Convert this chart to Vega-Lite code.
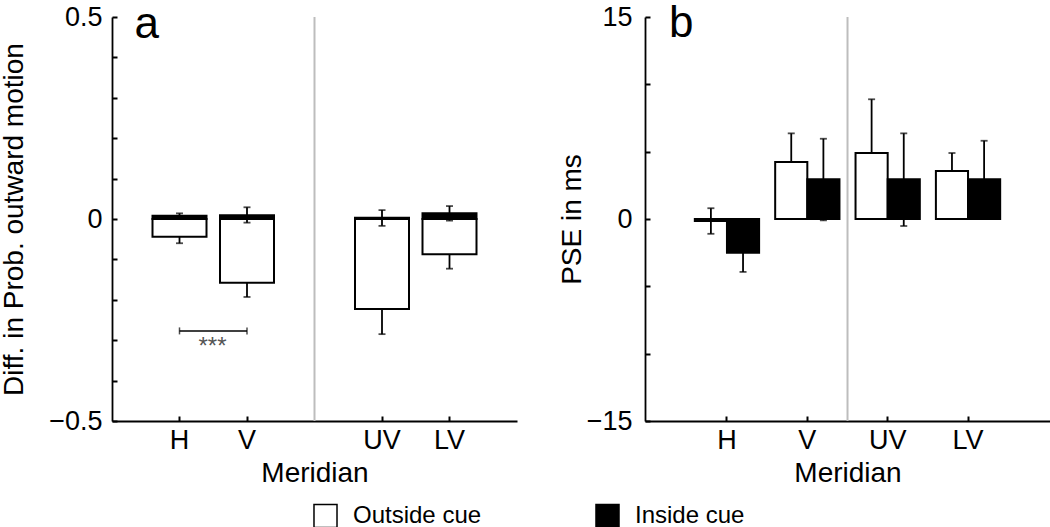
{
  "$schema": "https://vega.github.io/schema/vega-lite/v6.json",
  "padding": {"left": 0, "top": 2, "right": 0, "bottom": 0},
  "background": "white",
  "bounds": "flush",
  "spacing": 128,
  "config": {
    "view": {"stroke": null},
    "axis": {
      "domainColor": "black", "domainWidth": 1.8, "tickColor": "black", "tickWidth": 2,
      "labelColor": "black", "titleColor": "black", "labelFont": "Liberation Sans", "titleFont": "Liberation Sans",
      "labelFontSize": 27, "titleFontSize": 28, "titleFontWeight": "normal", "grid": false
    },
    "text": {"font": "Liberation Sans"},
    "legend": {"labelFont": "Liberation Sans"}
  },
  "datasets": {
    "a": [
      {"Meridian": "H", "Cue": "Outside cue", "value": -0.044, "lo": -0.060, "hi": -0.028},
      {"Meridian": "H", "Cue": "Inside cue", "value": 0.008, "lo": 0.004, "hi": 0.014},
      {"Meridian": "V", "Cue": "Outside cue", "value": -0.158, "lo": -0.193, "hi": -0.123},
      {"Meridian": "V", "Cue": "Inside cue", "value": 0.009, "lo": -0.009, "hi": 0.029},
      {"Meridian": "UV", "Cue": "Outside cue", "value": -0.223, "lo": -0.285, "hi": -0.161},
      {"Meridian": "UV", "Cue": "Inside cue", "value": 0.003, "lo": -0.017, "hi": 0.022},
      {"Meridian": "LV", "Cue": "Outside cue", "value": -0.087, "lo": -0.123, "hi": -0.051},
      {"Meridian": "LV", "Cue": "Inside cue", "value": 0.014, "lo": -0.004, "hi": 0.032}
    ],
    "b": [
      {"Meridian": "H", "Cue": "Outside cue", "value": -0.15, "lo": -1.1, "hi": 0.8},
      {"Meridian": "H", "Cue": "Inside cue", "value": -2.5, "lo": -3.93, "hi": -1.07},
      {"Meridian": "V", "Cue": "Outside cue", "value": 4.23, "lo": 2.1, "hi": 6.36},
      {"Meridian": "V", "Cue": "Inside cue", "value": 2.95, "lo": -0.1, "hi": 5.96},
      {"Meridian": "UV", "Cue": "Outside cue", "value": 4.9, "lo": 0.91, "hi": 8.89},
      {"Meridian": "UV", "Cue": "Inside cue", "value": 2.95, "lo": -0.52, "hi": 6.36},
      {"Meridian": "LV", "Cue": "Outside cue", "value": 3.56, "lo": 2.22, "hi": 4.9},
      {"Meridian": "LV", "Cue": "Inside cue", "value": 2.95, "lo": 0.09, "hi": 5.81}
    ],
    "sig": [
      {"from": "H", "to": "V", "y": -0.277, "label": "***"}
    ]
  },
  "hconcat": [
    {
      "width": 405,
      "height": 404,
      "encoding": {
        "x": {
          "field": "Meridian", "type": "nominal", "title": "Meridian",
          "scale": {"domain": ["H", "V", " ", "UV", "LV"], "paddingInner": 0.2, "paddingOuter": 0.6},
          "axis": {"values": ["H", "V", "UV", "LV"], "labelAngle": 0, "tickSize": -5, "labelPadding": 11, "titlePadding": 6}
        }
      },
      "layer": [
        {
          "data": {"values": [{}]},
          "mark": {"type": "rule", "color": "#bdbdbd", "strokeWidth": 2},
          "encoding": {"x": {"datum": " ", "type": "nominal", "title": "Meridian"}}
        },
        {
          "data": {"name": "a"},
          "transform": [{"filter": "datum.Cue == 'Outside cue'"}],
          "mark": {"type": "rule", "color": "black", "strokeWidth": 1.8},
          "encoding": {
            "y": {"field": "lo", "type": "quantitative", "title": "Diff. in Prob. outward motion"},
            "y2": {"field": "hi"}
          }
        },
        {
          "data": {"name": "a"},
          "transform": [{"filter": "datum.Cue == 'Outside cue'"}, {"fold": ["lo", "hi"], "as": ["end", "ev"]}],
          "mark": {"type": "tick", "orient": "horizontal", "size": 7, "thickness": 1.8, "color": "black"},
          "encoding": {"y": {"field": "ev", "type": "quantitative", "title": "Diff. in Prob. outward motion"}}
        },
        {
          "data": {"name": "a"},
          "transform": [{"filter": "datum.Cue == 'Outside cue'"}],
          "mark": {"type": "bar", "stroke": "black", "strokeWidth": 2},
          "encoding": {
            "y": {
              "field": "value", "type": "quantitative", "title": "Diff. in Prob. outward motion",
              "scale": {"domain": [-0.5, 0.5], "nice": false},
              "axis": {
                "values": [-0.5, -0.4, -0.3, -0.2, -0.1, 0, 0.1, 0.2, 0.3, 0.4, 0.5],
                "labelExpr": "datum.value == 0.5 ? '0.5' : datum.value == 0 ? '0' : datum.value == -0.5 ? '−0.5' : ''",
                "tickSize": -5, "labelPadding": 15, "titlePadding": 20
              }
            },
            "fill": {"field": "Cue", "type": "nominal", "scale": {"domain": ["Outside cue", "Inside cue"], "range": ["white", "black"]}}
          }
        },
        {
          "data": {"name": "a"},
          "transform": [{"filter": "datum.Cue == 'Inside cue'"}],
          "mark": {"type": "rule", "color": "black", "strokeWidth": 1.8},
          "encoding": {
            "y": {"field": "lo", "type": "quantitative", "title": "Diff. in Prob. outward motion"},
            "y2": {"field": "hi"}
          }
        },
        {
          "data": {"name": "a"},
          "transform": [{"filter": "datum.Cue == 'Inside cue'"}, {"fold": ["lo", "hi"], "as": ["end", "ev"]}],
          "mark": {"type": "tick", "orient": "horizontal", "size": 7, "thickness": 1.8, "color": "black"},
          "encoding": {"y": {"field": "ev", "type": "quantitative", "title": "Diff. in Prob. outward motion"}}
        },
        {
          "data": {"name": "a"},
          "transform": [{"filter": "datum.Cue == 'Inside cue'"}],
          "mark": {"type": "bar", "stroke": "black", "strokeWidth": 2},
          "encoding": {
            "y": {"field": "value", "type": "quantitative", "title": "Diff. in Prob. outward motion"},
            "fill": {"field": "Cue", "type": "nominal"}
          }
        },
        {
          "data": {"values": [{}]},
          "mark": {"type": "rule", "color": "black", "strokeWidth": 1.8},
          "encoding": {"y": {"datum": 0, "type": "quantitative", "title": "Diff. in Prob. outward motion"}}
        },
        {
          "data": {"name": "sig"},
          "mark": {"type": "rule", "color": "black", "strokeWidth": 1.5},
          "encoding": {
            "x": {"field": "from", "type": "nominal", "title": "Meridian"},
            "x2": {"field": "to"},
            "y": {"field": "y", "type": "quantitative", "title": "Diff. in Prob. outward motion"}
          }
        },
        {
          "data": {"name": "sig"},
          "transform": [{"fold": ["from", "to"], "as": ["side", "pos"]}],
          "mark": {"type": "tick", "orient": "vertical", "size": 7, "thickness": 1.5, "color": "black"},
          "encoding": {
            "x": {"field": "pos", "type": "nominal", "title": "Meridian"},
            "y": {"field": "y", "type": "quantitative", "title": "Diff. in Prob. outward motion"}
          }
        },
        {
          "data": {"name": "sig"},
          "mark": {"type": "text", "fontSize": 24, "color": "#555555", "align": "center", "baseline": "top", "dx": 33, "dy": 4},
          "encoding": {
            "x": {"field": "from", "type": "nominal", "title": "Meridian"},
            "y": {"field": "y", "type": "quantitative", "title": "Diff. in Prob. outward motion"},
            "text": {"field": "label"}
          }
        },
        {
          "data": {"values": [{"panel": "a"}]},
          "mark": {"type": "text", "fontSize": 44, "align": "left", "baseline": "alphabetic", "dx": -45, "dy": 21, "color": "black"},
          "encoding": {
            "x": {"datum": "H", "type": "nominal", "title": "Meridian"},
            "y": {"datum": 0.5, "type": "quantitative", "title": "Diff. in Prob. outward motion"},
            "text": {"field": "panel"}
          }
        }
      ]
    },
    {
      "width": 405,
      "height": 404,
      "encoding": {
        "x": {
          "field": "Meridian", "type": "nominal", "title": "Meridian",
          "scale": {"domain": ["H", "V", "UV", "LV"], "paddingInner": 0.2, "paddingOuter": 0.62},
          "axis": {"labelAngle": 0, "tickSize": -5, "labelPadding": 11, "titlePadding": 6}
        }
      },
      "layer": [
        {
          "data": {"values": [{}]},
          "mark": {"type": "rule", "color": "#bdbdbd", "strokeWidth": 2, "xOffset": 40.2},
          "encoding": {"x": {"datum": "V", "type": "nominal", "title": "Meridian"}}
        },
        {
          "data": {"name": "b"},
          "mark": {"type": "rule", "color": "black", "strokeWidth": 1.8},
          "encoding": {
            "xOffset": {"field": "Cue", "type": "nominal", "scale": {"domain": ["Outside cue", "Inside cue"], "paddingInner": 0, "paddingOuter": 0}},
            "y": {"field": "lo", "type": "quantitative", "title": "PSE in ms"},
            "y2": {"field": "hi"}
          }
        },
        {
          "data": {"name": "b"},
          "transform": [{"fold": ["lo", "hi"], "as": ["end", "ev"]}],
          "mark": {"type": "tick", "orient": "horizontal", "size": 7, "thickness": 1.8, "color": "black"},
          "encoding": {
            "xOffset": {"field": "Cue", "type": "nominal"},
            "y": {"field": "ev", "type": "quantitative", "title": "PSE in ms"}
          }
        },
        {
          "data": {"name": "b"},
          "mark": {"type": "bar", "stroke": "black", "strokeWidth": 2},
          "encoding": {
            "xOffset": {"field": "Cue", "type": "nominal"},
            "y": {
              "field": "value", "type": "quantitative", "title": "PSE in ms",
              "scale": {"domain": [-15, 15], "nice": false},
              "axis": {
                "values": [-15, -10, -5, 0, 5, 10, 15],
                "labelExpr": "datum.value == 15 ? '15' : datum.value == 0 ? '0' : datum.value == -15 ? '−15' : ''",
                "tickSize": -5, "labelPadding": 18, "titlePadding": 0
              }
            },
            "fill": {
              "field": "Cue", "type": "nominal",
              "scale": {"domain": ["Outside cue", "Inside cue"], "range": ["white", "black"]},
              "legend": {
                "title": null, "orient": "none", "direction": "horizontal", "legendX": 201, "legendY": 486,
                "symbolType": "square", "symbolSize": 530, "symbolStrokeColor": "black", "symbolStrokeWidth": 1.5,
                "labelFontSize": 24, "labelColor": "black", "labelOffset": 15, "columnPadding": 110
              }
            }
          }
        },
        {
          "data": {"values": [{}]},
          "mark": {"type": "rule", "color": "black", "strokeWidth": 1.8},
          "encoding": {"y": {"datum": 0, "type": "quantitative", "title": "PSE in ms"}}
        },
        {
          "data": {"values": [{"panel": "b"}]},
          "mark": {"type": "text", "fontSize": 44, "align": "left", "baseline": "alphabetic", "dx": -58, "dy": 20, "color": "black"},
          "encoding": {
            "x": {"datum": "H", "type": "nominal", "title": "Meridian"},
            "y": {"datum": 15, "type": "quantitative", "title": "PSE in ms"},
            "text": {"field": "panel"}
          }
        }
      ]
    }
  ],
  "resolve": {"scale": {"x": "independent", "y": "independent", "xOffset": "independent", "fill": "shared"}, "legend": {"fill": "shared"}}
}
